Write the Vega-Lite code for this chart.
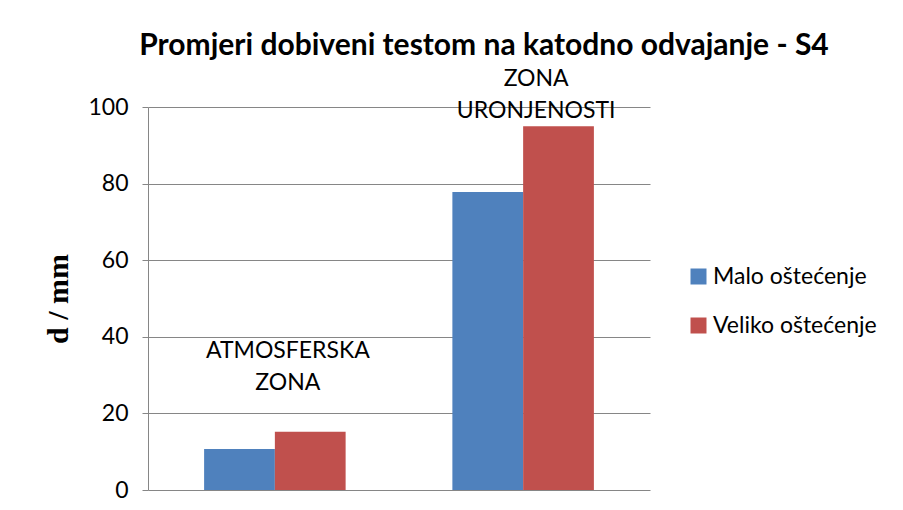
{
  "$schema": "https://vega.github.io/schema/vega-lite/v6.json",
  "width": 502,
  "height": 383,
  "autosize": {"type": "none"},
  "padding": {"left": 148, "top": 107, "right": 253, "bottom": 20},
  "background": "white",
  "title": {
    "text": "Promjeri dobiveni testom na katodno odvajanje - S4",
    "font": "Lato",
    "fontSize": 30,
    "fontWeight": "bold",
    "color": "black",
    "anchor": "middle",
    "dx": 85,
    "offset": 7
  },
  "datasets": {
    "bars": [
      {"zona": "ATMOSFERSKA ZONA", "serija": "Malo oštećenje", "d": 10.7},
      {"zona": "ATMOSFERSKA ZONA", "serija": "Veliko oštećenje", "d": 15.2},
      {"zona": "ZONA URONJENOSTI", "serija": "Malo oštećenje", "d": 77.8},
      {"zona": "ZONA URONJENOSTI", "serija": "Veliko oštećenje", "d": 95.0}
    ],
    "labels": [
      {"zona": "ATMOSFERSKA ZONA", "label": "ATMOSFERSKA\nZONA", "pos": 36.2},
      {"zona": "ZONA URONJENOSTI", "label": "ZONA\nURONJENOSTI", "pos": 107.4}
    ]
  },
  "layer": [
    {
      "data": {"name": "bars"},
      "mark": {"type": "bar"},
      "encoding": {
        "x": {
          "field": "zona",
          "type": "nominal",
          "sort": null,
          "scale": {"paddingInner": 0.43, "paddingOuter": 0.226},
          "axis": null
        },
        "xOffset": {"field": "serija", "type": "nominal", "sort": null},
        "y": {
          "field": "d",
          "type": "quantitative",
          "title": "d / mm",
          "scale": {"domain": [0, 100], "nice": false, "zero": true},
          "axis": {"values": [0, 20, 40, 60, 80, 100]}
        },
        "color": {
          "field": "serija",
          "type": "nominal",
          "scale": {
            "domain": ["Malo oštećenje", "Veliko oštećenje"],
            "range": ["#4F81BD", "#C0504D"]
          },
          "legend": {
            "title": null,
            "orient": "none",
            "legendX": 539,
            "legendY": 158,
            "symbolType": "square",
            "symbolSize": 256,
            "symbolStrokeWidth": 0,
            "labelFont": "Lato",
            "labelFontSize": 23,
            "labelColor": "black",
            "labelOffset": 3,
            "rowPadding": 25,
            "labelLimit": 300
          }
        }
      }
    },
    {
      "data": {"name": "labels"},
      "mark": {
        "type": "text",
        "font": "Lato",
        "fontSize": 23,
        "color": "black",
        "dx": 13,
        "lineBreak": "\n",
        "lineHeight": 32,
        "baseline": "middle",
        "align": "center"
      },
      "encoding": {
        "x": {"field": "zona", "type": "nominal", "sort": null, "axis": null},
        "y": {"field": "pos", "type": "quantitative", "title": "d / mm"},
        "text": {"field": "label"}
      }
    }
  ],
  "config": {
    "view": {"stroke": null},
    "axisY": {
      "grid": true,
      "gridColor": "#868686",
      "gridWidth": 1,
      "gridOpacity": 1,
      "domain": true,
      "domainColor": "#868686",
      "domainWidth": 1,
      "ticks": true,
      "tickColor": "#868686",
      "tickSize": 6,
      "labelFont": "Lato",
      "labelFontSize": 23,
      "labelColor": "black",
      "labelPadding": 14,
      "titleFont": "Liberation Serif",
      "titleFontSize": 30,
      "titleFontWeight": "bold",
      "titleColor": "black",
      "titlePadding": 14
    }
  }
}
